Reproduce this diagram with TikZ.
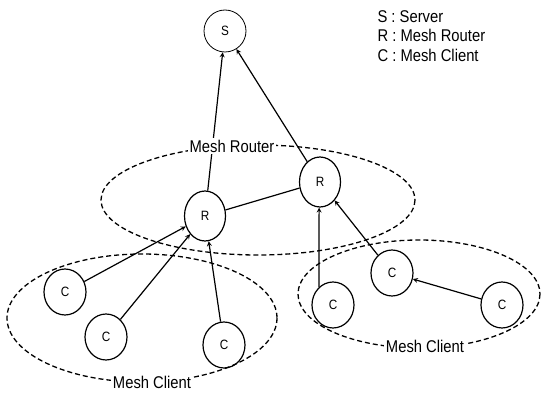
\documentclass[tikz,border=0pt]{standalone}
\usepackage{fontspec}
\setmainfont[FakeStretch=0.87]{Liberation Sans}
\usetikzlibrary{shapes.geometric}
\begin{document}
\begin{tikzpicture}[x=1pt,y=-1pt,>=stealth,
  nd/.style={draw, ellipse, inner sep=0pt, line width=1.2pt, font=\fontsize{13.5}{15}\selectfont},
  cli/.style={nd, minimum width=42pt, minimum height=46pt},
  rtr/.style={nd, minimum width=41pt, minimum height=50pt},
  grp/.style={dash pattern=on 5pt off 3pt, line width=1.3pt},
  lbl/.style={fill=white, inner sep=2pt, font=\fontsize{17}{19}\selectfont},
  lnk/.style={line width=1.2pt}]
  \useasboundingbox (0,0) rectangle (541,393);
  % dashed groups
  \draw[grp] (258,200) ellipse [x radius=157, y radius=55];
  \draw[grp] (142,318) ellipse [x radius=135, y radius=64];
  \draw[grp] (419,294) ellipse [x radius=121, y radius=54];
  % server, routers, clients
  \node[nd, minimum size=42pt, line width=0.8pt] (srv) at (225,31) {S};
  \node[rtr] (rt1) at (205,216) {R};
  \node[rtr] (rt2) at (320,182) {R};
  \node[cli] (cl1) at (65,292) {C};
  \node[cli] (cl2) at (106,337) {C};
  \node[cli] (cl3) at (224,345) {C};
  \node[cli] (cl4) at (333,305) {C};
  \node[cli] (cl5) at (392,273) {C};
  \node[cli] (cl6) at (502,305) {C};
  % links
  \draw[lnk, ->] (rt1) -- (srv);
  \draw[lnk, ->] (rt2) -- (srv);
  \draw[lnk] (rt1) -- (rt2);
  \draw[lnk, ->] (cl1) -- (rt1);
  \draw[lnk, ->] (cl2) -- (rt1);
  \draw[lnk, ->] (cl3) -- (rt1);
  \draw[lnk, ->] (cl4.128) -- (rt2.268);
  \draw[lnk, ->] (cl5) -- (rt2);
  \draw[lnk, ->] (cl6) -- (cl5);
  % group labels
  \node[lbl] (lrt) at (232,146) {Mesh Router};
  \node[lbl] (lc1) at (152,382) {Mesh Client};
  \node[lbl] (lc2) at (425,346) {Mesh Client};
  % key
  \node[right, align=left, font=\fontsize{17}{19.5}\selectfont] (key) at (374,36)
    {S : Server\\R : Mesh Router\\C : Mesh Client};
\end{tikzpicture}
\end{document}
